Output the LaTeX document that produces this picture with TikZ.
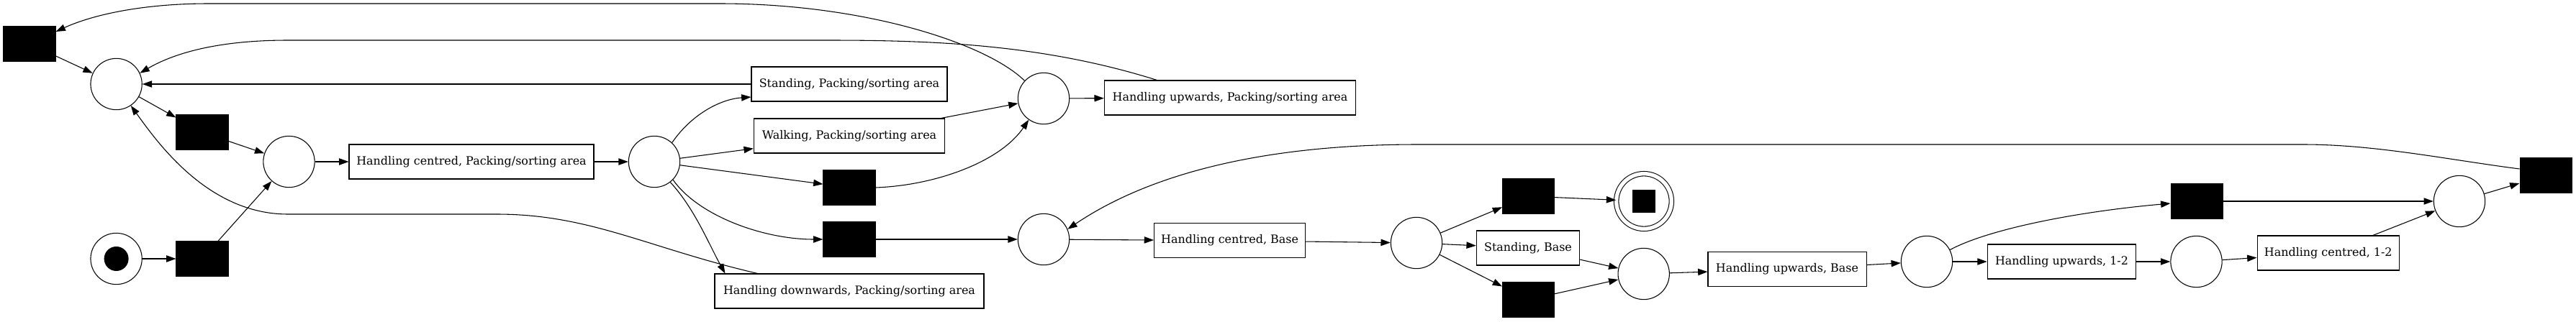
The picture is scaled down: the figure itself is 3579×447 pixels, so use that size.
\documentclass[tikz,border=0pt]{standalone}
\usepackage{fontspec}
\setmainfont{DejaVu Serif}
\usetikzlibrary{arrows.meta,calc}
\tikzset{
  place/.style={circle,draw,line width=0.8pt,minimum size=53.5pt,inner sep=0pt},
  trans/.style={rectangle,draw,fill=black,line width=0.8pt,minimum width=54pt,minimum height=36pt,inner sep=0pt},
  act/.style={rectangle,draw,line width=0.8pt,minimum height=36pt,inner xsep=2pt,inner ysep=0pt,font=\fontsize{11.95}{14}\selectfont},
  arr/.style={line width=0.8pt,-{Triangle[length=10pt,width=7pt]}},
}
\begin{document}
\begin{tikzpicture}[x=0.75pt,y=-0.75pt]
\useasboundingbox (0,0) rectangle (3579,447);
% nodes
\node[trans] (T1) at (41,61) {};
\node[place] (P1) at (161.6,117) {};
\node[trans] (T2) at (281,184) {};
\node[place] (P2) at (401.5,225) {};
\node[act,minimum width=255pt] (HCP) at (655,225) {Handling centred, Packing/sorting area};
\node[place] (S) at (161.6,360) {};
\node[circle,fill=black,minimum size=25.5pt,inner sep=0pt] (tok) at (161.6,360) {};
\node[trans] (T0) at (281,360) {};
\node[place] (P3) at (909,225) {};
\node[act,minimum width=204pt] (SPS) at (1180,117) {Standing, Packing/sorting area};
\node[act,minimum width=199pt] (WPS) at (1180,189) {Walking, Packing/sorting area};
\node[trans] (T3) at (1180,261) {};
\node[trans] (T4) at (1180,333) {};
\node[act,minimum width=280.5pt] (HD) at (1180,405) {Handling downwards, Packing/sorting area};
\node[place] (P4) at (1450,137) {};
\node[act,minimum width=262pt] (HUP) at (1709,136) {Handling upwards, Packing/sorting area};
\node[place] (P5) at (1450,333) {};
\node[act,minimum width=157.5pt] (HCB) at (1708.6,334.7) {Handling centred, Base};
\node[place] (P6) at (1968,338) {};
\node[trans] (T5) at (2123.6,273) {};
\node[circle,draw,line width=0.8pt,double,double distance=4pt,minimum size=57.5pt,inner sep=0pt] (E) at (2284,280) {};
\node[rectangle,fill=black,minimum size=24pt,inner sep=0pt] (Etok) at (2284,280) {};
\node[act,minimum width=107.6pt] (SB) at (2123,345) {Standing, Base};
\node[trans] (T6) at (2123.6,417) {};
\node[place] (P7) at (2283.7,381) {};
\node[act,minimum width=165pt] (HUB) at (2483,374.5) {Handling upwards, Base};
\node[place] (P8) at (2677,364) {};
\node[trans] (T7) at (3052,280) {};
\node[act,minimum width=155pt] (HU12) at (2864.5,364) {Handling upwards, 1-2};
\node[place] (P9) at (3051.5,364) {};
\node[act,minimum width=148pt] (HC12) at (3234.7,352) {Handling centred, 1-2};
\node[place] (P10) at (3417,280) {};
\node[trans] (T8) at (3537,244) {};
% straight arcs
\draw[arr] (S) -- (T0);
\draw[arr] (T0) -- (P2);
\draw[arr] (T1) -- (P1);
\draw[arr] (P1) -- (T2);
\draw[arr] (T2) -- (P2);
\draw[arr] (P2) -- (HCP);
\draw[arr] (HCP) -- (P3);
\draw[arr] (P3) -- (WPS);
\draw[arr] (P3) -- (T3);
\draw[arr] (SPS.west) -- (P1.east);
\draw[arr] (WPS) -- (P4);
\draw[arr] (T4) -- (P5);
\draw[arr] (P4) -- (HUP);
\draw[arr] (P5) -- (HCB);
\draw[arr] (HCB) -- (P6);
\draw[arr] (P6) -- (T5);
\draw[arr] (T5) -- (E);
\draw[arr] (P6) -- (SB);
\draw[arr] (P6) -- (T6);
\draw[arr] (SB) -- (P7);
\draw[arr] (T6) -- (P7);
\draw[arr] (P7) -- (HUB);
\draw[arr] (HUB) -- (P8);
\draw[arr] (P8) -- (HU12);
\draw[arr] (HU12) -- (P9);
\draw[arr] (P9) -- (HC12);
\draw[arr] (HC12) -- (P10);
\draw[arr] (T7) -- (P10);
\draw[arr] (P10) -- (T8);
% curved arcs
\draw[arr] (P4.137) .. controls (1370,60) and (1200,5) .. (1000,5) -- (290,5) .. controls (200,5) and (130,20) .. (T1.25);
\draw[arr] ($(HUP.north west)!0.21!(HUP.north east)$) .. controls (1450,62) and (1300,56) .. (1150,56) -- (400,56) .. controls (300,56) and (240,75) .. (P1.25);
\draw[arr] ($(HD.north west)!0.16!(HD.north east)$) .. controls (900,345) and (820,298) .. (690,298) -- (400,298) .. controls (290,298) and (220,200) .. (P1.-56);
\draw[arr] (P3.47) .. controls (960,160) and (1000,138) .. ($(SPS.west)+(0,18)$);
\draw[arr] (P3.-44) .. controls (970,300) and (1060,333) .. (T4.west);
\draw[arr] (P3.-52) .. controls (965,290) and (985,340) .. ($(HD.north west)!0.04!(HD.north east)$);
\draw[arr] (T3.east) .. controls (1300,258) and (1390,225) .. (P4.-125);
\draw[arr] ($(T8.west)+(0,-9)$) .. controls (3400,222) and (3300,201) .. (3200,201) -- (1970,201) .. controls (1760,201) and (1600,240) .. (P5.23);
\draw[arr] (P8.27) .. controls (2760,320) and (2880,295) .. ($(T7.west)+(0,3)$);
\end{tikzpicture}
\end{document}
